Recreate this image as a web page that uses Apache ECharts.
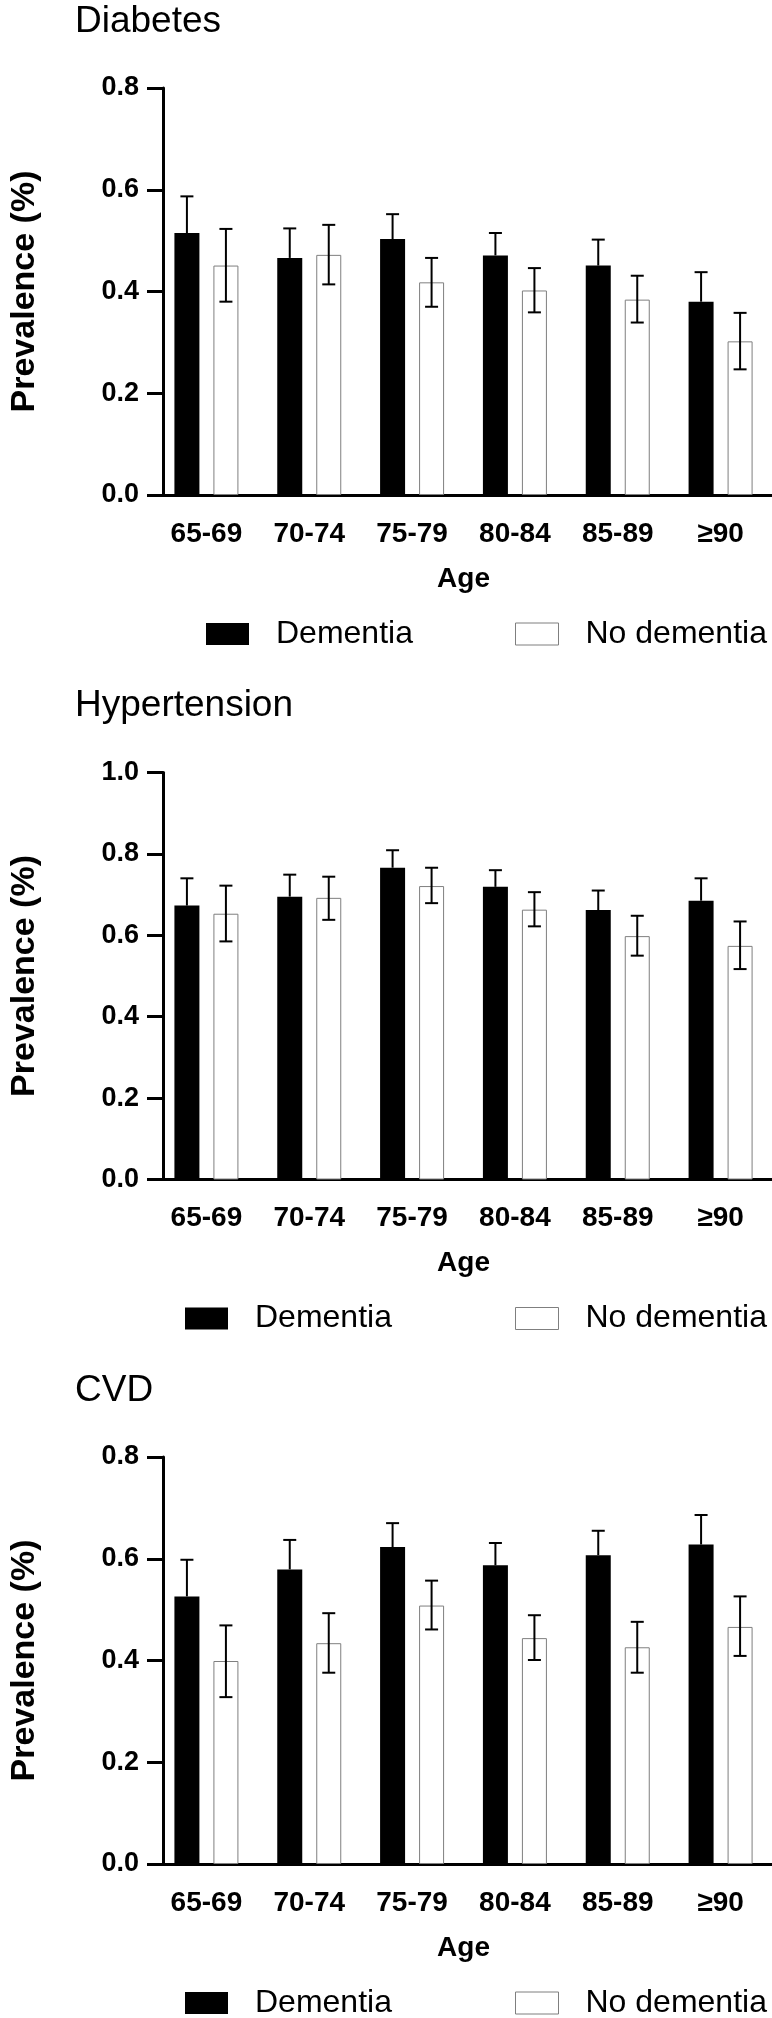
<!DOCTYPE html>
<html>
<head>
<meta charset="utf-8">
<script src="https://cdn.jsdelivr.net/npm/echarts@6/dist/echarts.min.js"></script>
<style>
  html, body { margin: 0; padding: 0; background: #fff; }
  #chart { width: 772px; height: 2018px; }
</style>
</head>
<body>
<div id="chart"></div>
<script>
// categories
const ages = ['65-69', '70-74', '75-79', '80-84', '85-89', '≥90'];

// Diabetes
const diabDem = [0.515, 0.466, 0.503, 0.471, 0.451, 0.380];
const diabDemHi = [0.587, 0.524, 0.552, 0.515, 0.502, 0.438];
const diabNoDem = [0.451, 0.472, 0.418, 0.402, 0.384, 0.302];
const diabNoDemLo = [0.380, 0.414, 0.370, 0.359, 0.339, 0.247];
const diabNoDemHi = [0.523, 0.531, 0.466, 0.446, 0.431, 0.358];

// Hypertension
const hypDem = [0.673, 0.695, 0.766, 0.719, 0.662, 0.685];
const hypDemHi = [0.740, 0.749, 0.809, 0.760, 0.710, 0.740];
const hypNoDem = [0.653, 0.692, 0.721, 0.663, 0.598, 0.574];
const hypNoDemLo = [0.585, 0.638, 0.679, 0.622, 0.550, 0.517];
const hypNoDemHi = [0.722, 0.744, 0.766, 0.706, 0.648, 0.634];

// CVD
const cvdDem = [0.526, 0.579, 0.623, 0.587, 0.607, 0.628];
const cvdDemHi = [0.598, 0.637, 0.670, 0.631, 0.655, 0.686];
const cvdNoDem = [0.399, 0.434, 0.508, 0.444, 0.426, 0.466];
const cvdNoDemLo = [0.328, 0.376, 0.461, 0.401, 0.376, 0.409];
const cvdNoDemHi = [0.469, 0.493, 0.557, 0.489, 0.476, 0.526];

const yTicksMax = [0.8, 1.0, 0.8];

const panels = [
  { title: 'Diabetes', dem: diabDem, demHi: diabDemHi, noDem: diabNoDem, lo: diabNoDemLo, hi: diabNoDemHi, demLegendLeft: 206 },
  { title: 'Hypertension', dem: hypDem, demHi: hypDemHi, noDem: hypNoDem, lo: hypNoDemLo, hi: hypNoDemHi, demLegendLeft: 185 },
  { title: 'CVD', dem: cvdDem, demHi: cvdDemHi, noDem: cvdNoDem, lo: cvdNoDemLo, hi: cvdNoDemHi, demLegendLeft: 185 }
];

const FONT = '"Liberation Sans", Arial, Helvetica, sans-serif';
const STEP = 684.5;
const BAR_W = 25;
const BAR_GAP = 14;
const CAP = 6.5;
const BORDER = '#7f7f7f';

const chart = echarts.init(document.getElementById('chart'));

function errorBar(side, withLow) {
  return function (params, api) {
    const i = api.value(0);
    const lo = api.coord([i, api.value(1)]);
    const hi = api.coord([i, api.value(2)]);
    const cx = lo[0] + side * (BAR_W + BAR_GAP) / 2;
    const style = { stroke: '#000', lineWidth: 2 };
    const children = [
      { type: 'line', shape: { x1: cx, y1: lo[1], x2: cx, y2: hi[1] }, style: style },
      { type: 'line', shape: { x1: cx - CAP, y1: hi[1], x2: cx + CAP, y2: hi[1] }, style: style }
    ];
    if (withLow) {
      children.push({ type: 'line', shape: { x1: cx - CAP, y1: lo[1], x2: cx + CAP, y2: lo[1] }, style: style });
    }
    return { type: 'group', children: children };
  };
}

const title = [], grid = [], xAxis = [], yAxis = [], series = [], legend = [];

panels.forEach(function (p, k) {
  const off = STEP * k;

  title.push({
    text: p.title, left: 75, top: 3 + off, padding: 0,
    textStyle: { fontSize: 37, fontWeight: 'normal', fontFamily: FONT, color: '#000' }
  });

  grid.push({ left: 146, right: -4, top: 88 + off, height: 407 });

  xAxis.push({
    gridIndex: k, type: 'category', data: ages,
    name: 'Age', nameLocation: 'middle', nameGap: 70,
    nameTextStyle: { fontSize: 28, fontWeight: 'bold', fontFamily: FONT, color: '#000' },
    axisLine: { lineStyle: { color: '#000', width: 3 } },
    axisTick: { alignWithLabel: true, length: 17, lineStyle: { color: '#000', width: 3 } },
    axisLabel: { interval: 0, margin: 25, fontSize: 28, fontWeight: 'bold', fontFamily: FONT, color: '#000' }
  });

  yAxis.push({
    gridIndex: k, type: 'value', min: 0, max: yTicksMax[k], interval: 0.2, offset: -8,
    name: 'Prevalence (%)', nameLocation: 'middle', nameGap: 121,
    nameTextStyle: { fontSize: 34, fontWeight: 'bold', fontFamily: FONT, color: '#000' },
    axisLine: { show: true, lineStyle: { color: '#000', width: 3 } },
    axisTick: { show: true, length: 16, lineStyle: { color: '#000', width: 3 } },
    axisLabel: { margin: 24, fontSize: 27, fontWeight: 'bold', fontFamily: FONT, color: '#000',
      formatter: function (v) { return v.toFixed(1); } },
    splitLine: { show: false }
  });

  series.push({
    name: 'Dementia', type: 'bar', xAxisIndex: k, yAxisIndex: k,
    data: p.dem, barWidth: BAR_W, barGap: (BAR_GAP / BAR_W * 100) + '%',
    itemStyle: { color: '#000' }
  });
  series.push({
    name: 'No dementia', type: 'bar', xAxisIndex: k, yAxisIndex: k,
    data: p.noDem, barWidth: BAR_W,
    itemStyle: { color: '#fff', borderColor: BORDER, borderWidth: 1 }
  });
  series.push({
    type: 'custom', xAxisIndex: k, yAxisIndex: k, z: 5,
    renderItem: errorBar(-1, false),
    encode: { x: 0, y: [1, 2] },
    data: p.dem.map(function (v, i) { return [i, v, p.demHi[i]]; })
  });
  series.push({
    type: 'custom', xAxisIndex: k, yAxisIndex: k, z: 5,
    renderItem: errorBar(1, true),
    encode: { x: 0, y: [1, 2] },
    data: p.lo.map(function (v, i) { return [i, v, p.hi[i]]; })
  });

  const legendBase = {
    top: 618 + off, padding: 0, icon: 'rect', itemWidth: 43, itemHeight: 22,
    selectedMode: false,
    textStyle: { fontSize: 32, fontFamily: FONT, color: '#000', padding: [0, 0, 0, 22] }
  };
  legend.push(Object.assign({}, legendBase, {
    left: p.demLegendLeft,
    data: [{ name: 'Dementia', itemStyle: { color: '#000' } }]
  }));
  legend.push(Object.assign({}, legendBase, {
    left: 515,
    data: [{ name: 'No dementia', itemStyle: { color: '#fff', borderColor: BORDER, borderWidth: 1 } }]
  }));
});

chart.setOption({
  animation: false,
  backgroundColor: '#fff',
  title: title,
  legend: legend,
  grid: grid,
  xAxis: xAxis,
  yAxis: yAxis,
  series: series
});
</script>
</body>
</html>
